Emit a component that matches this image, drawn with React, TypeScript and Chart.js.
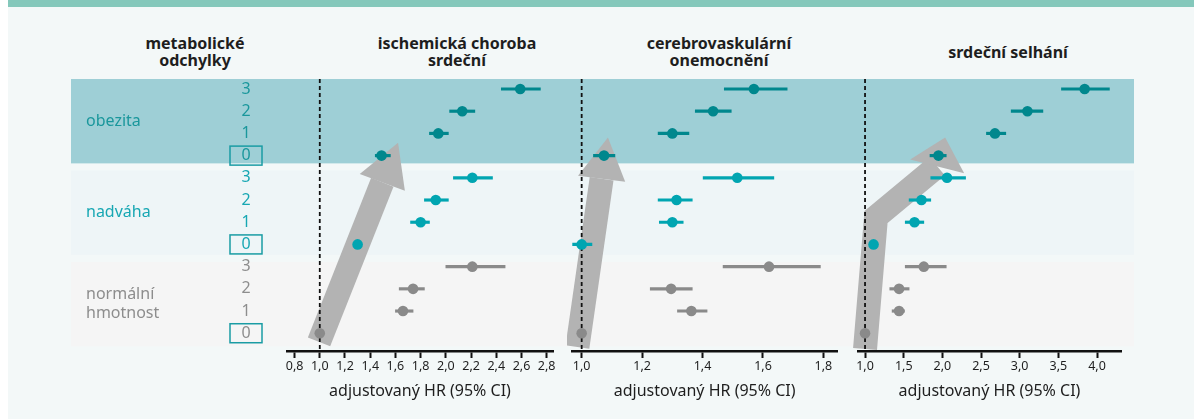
import React, { useEffect, useRef } from 'react';
import { Chart, registerables } from 'chart.js';

Chart.register(...registerables);

const FONT = '"Noto Sans", Lato, sans-serif';

// ---- data ----
const ROW_LABELS = ['3', '2', '1', '0', '3', '2', '1', '0', '3', '2', '1', '0'];
const ROW_GROUP = [0, 0, 0, 0, 1, 1, 1, 1, 2, 2, 2, 2];
const GROUP_LABELS = [['obezita'], ['nadváha'], ['normální', 'hmotnost']];

const IHD_HR = [2.59, 2.13, 1.94, 1.49, 2.21, 1.92, 1.8, 1.3, 2.21, 1.74, 1.66, 1.0];
const IHD_LO = [2.44, 2.03, 1.87, 1.44, 2.06, 1.83, 1.72, 1.3, 2.0, 1.63, 1.6, 1.0];
const IHD_HI = [2.75, 2.23, 2.02, 1.56, 2.37, 2.02, 1.87, 1.3, 2.47, 1.83, 1.74, 1.0];

const CBV_HR = [1.57, 1.435, 1.3, 1.074, 1.515, 1.314, 1.3, 1.0, 1.62, 1.296, 1.363, 1.0];
const CBV_LO = [1.472, 1.376, 1.253, 1.039, 1.402, 1.253, 1.257, 0.969, 1.468, 1.227, 1.317, 1.0];
const CBV_HI = [1.68, 1.495, 1.355, 1.11, 1.636, 1.366, 1.336, 1.034, 1.79, 1.366, 1.415, 1.0];

const HF_HR = [3.84, 3.1, 2.68, 1.95, 2.06, 1.73, 1.64, 1.11, 1.76, 1.44, 1.44, 1.0];
const HF_LO = [3.54, 2.89, 2.57, 1.84, 1.85, 1.57, 1.52, 1.11, 1.52, 1.32, 1.35, 1.0];
const HF_HI = [4.16, 3.3, 2.82, 2.05, 2.3, 1.85, 1.76, 1.11, 2.05, 1.57, 1.51, 1.0];

const IHD_TICKS = [0.8, 1.0, 1.2, 1.4, 1.6, 1.8, 2.0, 2.2, 2.4, 2.6, 2.8];
const CBV_TICKS = [1.0, 1.2, 1.4, 1.6, 1.8];
const HF_TICKS = [1.0, 1.5, 2.0, 2.5, 3.0, 3.5, 4.0];

const PANEL_TITLES = [['ischemická choroba', 'srdeční'], ['cerebrovaskulární', 'onemocnění'], ['srdeční selhání']];
const LEFT_TITLE = ['metabolické', 'odchylky'];
const AXIS_TITLE = 'adjustovaný HR (95% CI)';
const REFERENCE_HR = 1.0;

// arrows (annotation) in data units: [HR, row]
const ARROW_IHD = {
  shaft: [[0.994, 11.39], [1.496, 4.2]],
  head: [[1.621, 2.42], [1.317, 3.83], [1.675, 4.58]],
};
const ARROW_CBV = {
  shaft: [[0.986, 11.62], [1.066, 4.04]],
  head: [[1.087, 2.18], [0.988, 3.91], [1.144, 4.18]],
};
const ARROW_HF = {
  shaft: [[1.0, 11.71], [1.142, 5.77], [1.933, 3.48]],
  head: [[2.036, 2.18], [1.583, 3.17], [2.282, 3.8]],
};

// ---- styles ----
const BG = '#f3f8f8';
const TOP_BAR = '#84c8bb';
const BAND_COLORS = ['#9ecfd6', '#eef5f7', '#f5f5f5'];
const POINT_COLORS = ['#00878d', '#00a5b1', '#8a8a8a'];
const LABEL_COLORS = ['#1a979c', '#17a7b3', '#8d8d8d'];
const BOX_COLOR = '#1a9ca4';
const ARROW_COLOR = '#b3b3b3';
const TEXT = '#1e1e1e';

const forestPlugin = {
  id: 'forest',
  beforeDraw(chart: any) {
    const { ctx } = chart;
    const y = chart.scales.y;
    ctx.save();
    BAND_COLORS.forEach((c, g) => {
      const s = g * 4 - 0.45 + g * 0.12;
      const e = s + 3.8;
      const y0 = y.getPixelForValue(s);
      const y1 = y.getPixelForValue(e);
      ctx.fillStyle = c;
      ctx.fillRect(0, y0, chart.width, y1 - y0);
    });
    ctx.restore();
  },
  beforeDatasetsDraw(chart: any, _args: any, opts: any) {
    const { ctx } = chart;
    const x = chart.scales.x;
    const y = chart.scales.y;
    const px = (p: number[]) => [x.getPixelForValue(p[0]), y.getPixelForValue(p[1])];
    const arrow = opts.arrow;
    if (arrow) {
      ctx.save();
      ctx.strokeStyle = ARROW_COLOR;
      ctx.fillStyle = ARROW_COLOR;
      ctx.lineWidth = 24;
      ctx.lineJoin = 'miter';
      ctx.lineCap = 'butt';
      ctx.beginPath();
      arrow.shaft.forEach((p: number[], i: number) => {
        const [a, b] = px(p);
        if (i) ctx.lineTo(a, b);
        else ctx.moveTo(a, b);
      });
      ctx.stroke();
      ctx.beginPath();
      arrow.head.forEach((p: number[], i: number) => {
        const [a, b] = px(p);
        if (i) ctx.lineTo(a, b);
        else ctx.moveTo(a, b);
      });
      ctx.closePath();
      ctx.fill();
      ctx.restore();
    }
    // reference line
    const rx = x.getPixelForValue(REFERENCE_HR);
    ctx.save();
    ctx.strokeStyle = '#111';
    ctx.lineWidth = 1.8;
    ctx.setLineDash([4, 3]);
    ctx.beginPath();
    ctx.moveTo(rx, y.getPixelForValue(-0.45));
    ctx.lineTo(rx, chart.chartArea.bottom);
    ctx.stroke();
    ctx.restore();
  },
  afterDraw(chart: any, _args: any, opts: any) {
    if (!opts.rowLabels) return;
    const { ctx } = chart;
    const y = chart.scales.y;
    ctx.save();
    ctx.font = `16px ${FONT}`;
    ctx.textBaseline = 'middle';
    ctx.textAlign = 'center';
    const numX = opts.numX;
    ROW_LABELS.forEach((t, i) => {
      const g = ROW_GROUP[i];
      const yy = y.getPixelForValue(i);
      ctx.fillStyle = LABEL_COLORS[g];
      ctx.fillText(t, numX, yy);
      if (i % 4 === 3) {
        ctx.strokeStyle = BOX_COLOR;
        ctx.lineWidth = 1.5;
        ctx.strokeRect(numX - 16, yy - 9.5, 32, 19);
      }
    });
    ctx.textAlign = 'left';
    GROUP_LABELS.forEach((lines, g) => {
      const s = g * 4 - 0.45 + g * 0.12;
      const cy = (y.getPixelForValue(s) + y.getPixelForValue(s + 3.8)) / 2;
      ctx.fillStyle = LABEL_COLORS[g];
      lines.forEach((l, k) => {
        ctx.fillText(l, opts.groupX, cy + (k - (lines.length - 1) / 2) * 19);
      });
    });
    ctx.restore();
  },
};

type PanelCfg = {
  left: number;
  width: number;
  padL: number;
  padR: number;
  min: number;
  max: number;
  ticks: number[];
  hr: number[];
  lo: number[];
  hi: number[];
  arrow: any;
  rowLabels?: boolean;
};

const PANELS: PanelCfg[] = [
  { left: 71, width: 496, padL: 216, padR: 14, min: 0.74, max: 2.85, ticks: IHD_TICKS, hr: IHD_HR, lo: IHD_LO, hi: IHD_HI, arrow: ARROW_IHD, rowLabels: true },
  { left: 567, width: 281, padL: 5, padR: 11, min: 0.969, max: 1.845, ticks: CBV_TICKS, hr: CBV_HR, lo: CBV_LO, hi: CBV_HI, arrow: ARROW_CBV },
  { left: 848, width: 286, padL: 10, padR: 13, min: 0.909, max: 4.31, ticks: HF_TICKS, hr: HF_HR, lo: HF_LO, hi: HF_HI, arrow: ARROW_HF },
];

const H = 419;

function Panel({ cfg }: { cfg: PanelCfg }) {
  const ref = useRef<HTMLCanvasElement>(null);
  useEffect(() => {
    const colors = ROW_GROUP.map((g) => POINT_COLORS[g]);
    const chart = new Chart(ref.current as HTMLCanvasElement, {
      type: 'scatter',
      data: {
        datasets: [
          {
            type: 'scatter',
            order: 0,
            data: cfg.hr.map((v, i) => ({ x: v, y: i })),
            pointRadius: 5.3,
            pointHoverRadius: 5.3,
            pointBackgroundColor: colors,
            pointBorderWidth: 0,
            borderWidth: 0,
          } as any,
          {
            type: 'bar',
            order: 1,
            indexAxis: 'y',
            data: cfg.lo.map((v, i) => ({ x: [v, cfg.hi[i]], y: i })),
            backgroundColor: colors,
            borderWidth: 0,
            barThickness: 2.5,
          } as any,
        ],
      },
      options: {
        responsive: false,
        animation: false,
        devicePixelRatio: 1,
        layout: { padding: { top: 77.9, bottom: 0, left: cfg.padL, right: cfg.padR } },
        scales: {
          x: {
            type: 'linear',
            position: 'bottom',
            offset: false,
            beginAtZero: false,
            min: cfg.min,
            max: cfg.max,
            afterBuildTicks: (s: any) => {
              s.ticks = cfg.ticks.map((v) => ({ value: v }));
            },
            afterFit: (s: any) => {
              s.height = 68;
            },
            grid: { offset: false, drawOnChartArea: false, drawTicks: true, tickLength: 7, tickWidth: 2, tickColor: '#111' },
            border: { display: true, color: '#111', width: 2.5 },
            ticks: {
              padding: 1,
              color: TEXT,
              font: { family: FONT, size: 12.5 },
              maxRotation: 0,
              autoSkip: false,
              callback: (v: any) => Number(v).toFixed(1).replace('.', ','),
            },
            title: {
              display: true,
              text: AXIS_TITLE,
              color: TEXT,
              font: { family: FONT, size: 16 },
              padding: { top: 0, bottom: 18 },
            },
          },
          y: {
            type: 'linear',
            display: false,
            offset: false,
            beginAtZero: false,
            grid: { offset: false },
            min: -0.5,
            max: 11.8,
            reverse: true,
          },
        },
        plugins: {
          legend: { display: false },
          tooltip: { enabled: false },
          forest: { arrow: cfg.arrow, rowLabels: !!cfg.rowLabels, numX: 175, groupX: 15 },
        } as any,
      },
      plugins: [forestPlugin],
    });
    return () => chart.destroy();
  }, []);
  return (
    <canvas
      ref={ref}
      width={cfg.width}
      height={H}
      style={{ position: 'absolute', left: cfg.left - 8, top: 0, width: cfg.width, height: H }}
    />
  );
}

const titleStyle = (cx: number, top: number): React.CSSProperties => ({
  position: 'absolute',
  left: cx - 8 - 120,
  width: 240,
  top,
  textAlign: 'center',
  fontFamily: FONT,
  fontWeight: 700,
  fontSize: 16,
  lineHeight: '17px',
  color: TEXT,
  whiteSpace: 'nowrap',
});

export default function App() {
  return (
    <div style={{ position: 'absolute', left: 8, top: 0, width: 1186, height: H, background: BG, overflow: 'hidden' }}>
      <div style={{ position: 'absolute', left: 0, top: 0, width: 1186, height: 7, background: TOP_BAR }} />
      <div style={titleStyle(195, 35)}>
        {LEFT_TITLE.map((t) => (
          <div key={t}>{t}</div>
        ))}
      </div>
      <div style={titleStyle(457, 35)}>
        {PANEL_TITLES[0].map((t) => (
          <div key={t}>{t}</div>
        ))}
      </div>
      <div style={titleStyle(719, 35)}>
        {PANEL_TITLES[1].map((t) => (
          <div key={t}>{t}</div>
        ))}
      </div>
      <div style={titleStyle(1008, 43.5)}>
        {PANEL_TITLES[2].map((t) => (
          <div key={t}>{t}</div>
        ))}
      </div>
      {PANELS.map((p, i) => (
        <Panel key={i} cfg={p} />
      ))}
    </div>
  );
}
